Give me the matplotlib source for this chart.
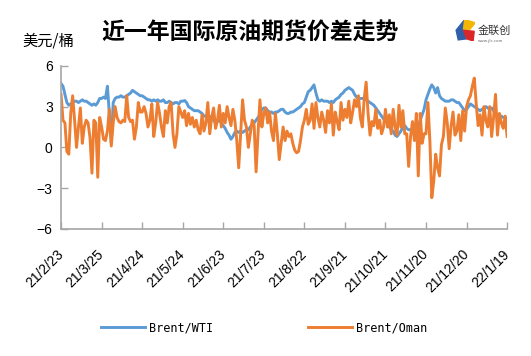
import numpy as np
import matplotlib
matplotlib.use("Agg")
import matplotlib.pyplot as plt
import matplotlib.transforms as mtransforms
from matplotlib.patches import Polygon

plt.rcParams['font.family'] = ['Noto Sans CJK SC', 'DejaVu Sans']

# tick labels on the date axis (every 21 trading days)
tick_labels = ['21/2/23', '21/3/25', '21/4/24', '21/5/24', '21/6/23', '21/7/23',
               '21/8/22', '21/9/21', '21/10/21', '21/11/20', '21/12/20', '22/1/19']

# Brent/WTI spread, USD/bbl
brent_wti = [
    4.7, 4.5, 3.9, 3.3, 3.1, 3.2, 3.3, 3.4, 3.4, 3.3, 3.4, 3.5, 3.4, 3.4, 3.3, 3.2, 3.1, 3.2, 3.1, 3.3, 3.6,
    3.6, 3.7, 3.6, 4.5, 2.5, 0.3, 3.3, 3.6, 3.7, 3.7, 3.8, 3.7, 3.7, 3.8, 3.9, 4.0, 4.2, 4.1, 4.0, 3.9, 3.8,
    3.8, 3.7, 3.6, 3.5, 3.5, 3.4, 3.5, 3.4, 3.5, 3.4, 3.4, 3.5, 3.3, 3.3, 3.4, 3.3, 3.2, 3.3, 3.3, 3.2, 3.4,
    3.4, 3.45, 3.3, 3.0, 2.9, 2.8, 2.7, 2.7, 2.7, 2.6, 2.5, 2.3, 2.3, 2.3, 2.2, 2.3, 2.0, 1.8, 1.9, 2.0, 1.8,
    1.6, 1.4, 1.1, 0.9, 0.6, 0.8, 1.1, 1.2, 1.1, 1.2, 1.1, 1.2, 1.3, 1.3, 1.5, 1.7, 1.8, 2.0, 2.2, 2.4, 2.8,
    2.9, 2.9, 2.7, 2.6, 2.6, 2.5, 2.6, 2.6, 2.7, 2.8, 2.8, 2.6, 2.5, 2.5, 2.6, 2.6, 2.7, 2.8, 2.9, 3.0, 3.2,
    3.3, 3.7, 4.1, 4.2, 4.4, 4.6, 4.0, 3.5, 3.4, 3.5, 3.4, 3.4, 3.4, 3.3, 3.4, 3.3, 3.5, 3.6, 3.7, 3.9, 4.0,
    4.2, 4.3, 4.4, 4.3, 4.2, 3.9, 3.7, 3.6, 3.6, 3.6, 3.6, 3.5, 3.4, 3.3, 3.2, 3.1, 2.9, 2.7, 2.5, 2.3, 2.1,
    2.0, 1.8, 1.5, 1.3, 1.2, 0.9, 0.8, 1.0, 1.2, 1.5, 1.6, 1.4, 1.3, 1.3, 1.2, 1.3, 1.3, 1.6, 2.0, 2.4, 2.8,
    3.5, 3.9, 4.3, 4.6, 4.4, 4.0, 4.4, 3.8, 3.6, 3.5, 3.4, 3.4, 3.4, 3.5, 3.5, 3.4, 3.3, 3.3, 3.1, 2.9, 2.7,
    2.8, 3.0, 3.2, 3.1, 3.0, 2.9, 2.8, 2.7, 2.8, 2.9, 3.0, 2.9, 2.8, 2.9, 2.7, 2.5, 2.4, 2.3, 2.3, 2.2, 2.2, 2.1,
]

# Brent/Oman spread, USD/bbl
brent_oman = [
    3.9, 2.0, 1.8, -0.3, -0.5, 2.5, 3.8, 2.0, 0.0, 1.5, 2.9, 0.3, 1.5, 2.0, 1.8, 0.7, -1.9, 2.0, 1.8, -2.2, 2.2,
    1.5, 0.6, 0.5, 1.2, 2.8, 0.1, 1.8, 3.0, 2.2, 1.9, 1.8, 2.0, 1.9, 3.8, 2.2, 1.9, 2.0, 0.6, 1.5, 3.3, 2.6,
    2.6, 3.0, 2.5, 1.5, 2.0, 3.2, 0.8, 1.8, 3.3, 2.5, 1.5, 0.8, 2.7, 1.8, 3.0, 3.3, 1.0, 0.0, 1.0, 3.0, 2.6,
    2.2, 2.7, 1.6, 2.5, 1.7, 2.2, 1.5, 2.0, 1.3, 1.0, 2.4, 1.2, 1.8, 3.3, 1.0, 2.2, 2.9, 1.4, 2.0, 3.1, 1.5,
    2.5, 1.8, 3.0, 2.2, 1.6, 2.8, 2.0, 0.5, -1.5, 1.0, 3.5, 2.0, 1.5, 0.0, 1.0, 2.0, 1.6, -1.8, 1.0, 3.5, 1.5,
    2.5, 2.9, 1.8, 2.6, 1.2, 0.5, 2.5, 1.0, -0.9, 0.3, 1.5, 0.5, 1.2, 0.8, 1.0, 0.3, -0.2, -0.4, -0.3, 0.5, 1.5,
    2.0, 2.8, 1.7, 2.0, 3.2, 1.4, 3.3, 2.2, 1.5, 2.6, 2.0, 1.1, 2.7, 1.8, 3.2, 0.9, 2.6, 1.9, 1.3, 3.3, 2.0,
    2.8, 2.2, 3.4, 1.8, 2.6, 3.5, 3.0, 3.8, 2.2, 1.5, 3.6, 4.8, 2.5, 0.9, 1.9, 1.6, 2.8, 1.4, 2.0, 1.0, 1.5,
    2.8, 1.5, 2.4, 1.0, 2.8, 1.5, 0.9, 3.1, 1.5, 2.7, 1.0, 1.0, -1.4, 0.8, 1.9, 0.5, 2.5, -2.1, 2.5, 0.3, 1.0,
    1.0, 3.3, 0.5, -3.7, -2.5, -0.5, -1.5, -2.1, 0.2, 0.8, 2.9, 1.8, -0.1, 1.6, 2.6, 0.9, 1.2, 2.4, 0.5, 2.7, 1.2,
    3.0, 3.5, 3.8, 4.5, 5.1, 3.2, 1.6, 2.4, 0.9, 3.0, 2.0, 1.5, 3.0, 0.8, 2.2, 3.9, 0.9, 2.5, 1.8, 1.4, 2.3, 0.8,
]

x = np.arange(len(brent_wti))
tick_pos = np.arange(len(tick_labels)) * 21

fig = plt.figure(figsize=(5.31, 3.56), dpi=100)
ax = fig.add_axes([0.115, 0.357, 0.84, 0.458])

l1, = ax.plot(x, brent_wti, color='#5B9BD5', lw=2.1, label='Brent/WTI')
l2, = ax.plot(x, brent_oman, color='#ED7D31', lw=2.1, label='Brent/Oman')

ax.set_xlim(0, tick_pos[-1])
ax.set_ylim(-6, 6)
ax.set_yticks([-6, -3, 0, 3, 6])
ax.set_yticklabels(['\u22126', '\u22123', '0', '3', '6'], family='Liberation Sans', fontsize=10)
ax.set_xticks(tick_pos)
ax.set_xticklabels(tick_labels, rotation=45, ha='right', va='top', rotation_mode='anchor',
                   family='Liberation Sans', fontsize=10)
ax.tick_params(axis='both', direction='in', length=5, color='#A6A6A6', width=1)
ax.tick_params(axis='x', pad=13)
ax.tick_params(axis='y', pad=6)
# nudge date labels a little left of their ticks
shift = mtransforms.ScaledTranslation(-5 / 100, 0, fig.dpi_scale_trans)
for lab in ax.get_xticklabels():
    lab.set_transform(lab.get_transform() + shift)
for s in ['top', 'right']:
    ax.spines[s].set_visible(False)
for s in ['left', 'bottom']:
    ax.spines[s].set_color('#A6A6A6')
    ax.spines[s].set_linewidth(1.2)

fig.text(0.471, 0.907, '近一年国际原油期货价差走势', ha='center', va='center',
         fontsize=16.5, fontweight='bold')
fig.text(0.043, 0.885, '美元/桶', ha='left', va='center', fontsize=11)

# logo
logo = fig.add_axes([0.855, 0.885, 0.04, 0.06])
logo.set_xlim(0, 1)
logo.set_ylim(0, 1)
logo.axis('off')
logo.add_patch(Polygon([[0.1, 0.5], [0.5, 1.0], [0.45, 0.55], [0.6, 0.1], [0.2, 0.05]], color='#2E5FA8'))
logo.add_patch(Polygon([[0.5, 1.0], [1.0, 0.85], [0.75, 0.55], [0.45, 0.55]], color='#F2B705'))
logo.add_patch(Polygon([[0.45, 0.5], [0.95, 0.45], [0.9, 0.0], [0.6, 0.1]], color='#D9262B'))
fig.text(0.9, 0.915, '金联创', ha='left', va='center', fontsize=8, color='#333333')
fig.text(0.9, 0.885, 'www.jlc.com', ha='left', va='center', fontsize=3, color='#666666')

fig.legend(handles=[l1, l2], loc='center', bbox_to_anchor=(0.497, 0.08), ncol=2, frameon=False,
           handlelength=3.8, columnspacing=8.0, handletextpad=0.3,
           prop={'family': 'DejaVu Sans Mono', 'size': 8.5})

fig.savefig('out.png', dpi=100, facecolor='white')
